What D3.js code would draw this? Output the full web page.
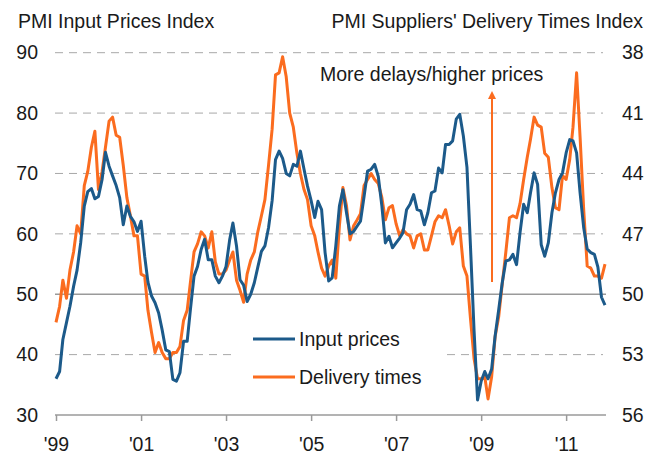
<!DOCTYPE html>
<html>
<head>
<meta charset="utf-8">
<script src="https://cdnjs.cloudflare.com/ajax/libs/d3/7.8.5/d3.min.js"></script>
<style>
  body { margin: 0; background: #fff; }
  svg text { font-family: "Liberation Sans", Arial, sans-serif; fill: #1a1a1a; }
</style>
</head>
<body>
<svg width="660" height="455"></svg>
<script>
// monthly, Jan 1999 .. Dec 2011
var startYear = 1999;

var inputPrices = [
  36.0, 37.2, 42.5, 45.3, 48.0, 51.3, 54.0, 58.5, 64.6, 67.0,
  67.5, 65.8, 66.2, 69.0, 73.5, 71.2, 69.6, 68.0, 66.0, 61.5,
  64.6, 62.9, 62.0, 60.4, 62.1, 56.3, 52.0, 49.7, 48.6, 46.9,
  44.1, 40.8, 40.5, 35.9, 35.6, 37.0, 42.2, 42.2, 47.5, 53.0,
  54.6, 57.4, 59.1, 55.7, 55.7, 53.0, 51.9, 53.0, 54.6, 59.0,
  61.8, 58.0, 52.4, 51.5, 48.8, 50.0, 51.9, 54.5, 57.1, 58.0,
  61.0, 65.5, 72.3, 73.7, 72.5, 70.0, 69.6, 71.5, 71.2, 73.7,
  70.7, 67.9, 65.5, 62.7, 65.4, 64.0, 56.9, 52.2, 52.7, 58.0,
  64.6, 67.3, 63.5, 60.0, 60.4, 61.3, 62.1, 66.2, 70.4, 70.7,
  71.5, 69.5, 64.6, 58.5, 59.6, 57.7, 58.5, 59.3, 60.2, 64.0,
  64.9, 66.5, 64.0, 63.8, 61.5, 63.5, 66.8, 67.1, 70.9, 70.1,
  74.8, 74.8, 75.4, 79.0, 79.8, 76.2, 71.0, 58.0, 44.0, 32.5,
  35.6, 37.2, 36.0, 37.6, 43.1, 47.5, 51.9, 55.5, 55.7, 56.6,
  54.9, 60.2, 64.9, 63.5, 66.8, 70.1, 68.2, 58.2, 56.3, 58.5,
  63.5, 66.8, 69.0, 70.1, 73.4, 75.6, 75.4, 73.4, 66.8, 61.0,
  57.5, 56.9, 56.6, 54.5, 49.5, 48.2
];

// right axis (inverted)
var deliveryTimes = [
  51.4, 50.6, 49.3, 50.2, 48.8, 47.9, 46.6, 47.0, 44.6, 43.9,
  42.7, 41.9, 44.8, 43.9, 42.7, 41.4, 41.2, 42.1, 42.2, 43.6,
  45.2, 46.1, 47.1, 47.1, 49.0, 49.1, 50.8, 51.9, 52.9, 52.4,
  52.9, 53.2, 53.2, 52.9, 52.9, 52.6, 51.3, 50.8, 49.4, 47.9,
  47.5, 46.9, 47.1, 47.7, 46.9, 48.4, 49.0, 49.0, 48.8, 48.3,
  47.9, 49.3, 49.8, 50.4, 49.0, 48.3, 47.9, 46.9, 46.1, 45.3,
  43.6, 41.8, 39.1, 39.0, 38.2, 39.2, 41.0, 41.7, 43.0, 44.0,
  44.8, 45.3, 46.6, 47.1, 47.9, 48.7, 49.1, 48.6, 48.3, 49.2,
  46.6, 44.7, 45.6, 47.3, 46.6, 46.3, 46.0, 44.6, 44.3, 44.0,
  44.3, 44.5, 45.2, 46.3, 45.7, 45.6, 46.5, 47.1, 46.8, 47.0,
  47.1, 47.7, 47.1, 47.0, 47.8, 47.8, 47.1, 46.4, 46.1, 46.2,
  45.8, 46.6, 47.5, 46.9, 46.7, 48.6, 49.1, 51.2, 53.2, 54.2,
  54.2, 54.1, 55.2, 54.1, 52.1, 51.1, 49.5, 47.9, 46.2, 46.1,
  46.2, 45.5, 44.3, 43.2, 42.3, 41.2, 41.6, 41.7, 43.0, 43.2,
  44.7, 45.7, 45.8, 44.1, 44.3, 43.3, 41.7, 39.0, 42.2, 45.8,
  48.6, 48.7, 49.1, 49.1, 49.2, 48.5
];

var leftTicks = [30, 40, 50, 60, 70, 80, 90];
var rightTicks = [38, 41, 44, 47, 50, 53, 56];
var xTickYears = [1999, 2001, 2003, 2005, 2007, 2009, 2011];
var xTickLabels = ["'99", "'01", "'03", "'05", "'07", "'09", "'11"];

var svg = d3.select("svg");
var plotLeft = 56, plotRight = 605, plotTop = 52.7, plotBottom = 415;
var blue = "#1c5a8a", orange = "#fb6c1f";

var months = inputPrices.map(function (d, i) { return new Date(startYear, i, 1); });

var x = d3.scaleTime()
  .domain([months[0], months[months.length - 1]])
  .range([plotLeft, plotRight]);
var y = d3.scaleLinear().domain([30, 90]).range([plotBottom, plotTop]);
var y2 = d3.scaleLinear().domain([56, 38]).range([plotBottom, plotTop]);

// gridlines
var grid = svg.append("g");
grid.selectAll("line")
  .data(leftTicks.filter(function (d) { return d !== 30 && d !== 50; }))
  .enter()
  .append("line")
  .attr("x1", plotLeft - 1)
  .attr("x2", plotRight - 2)
  .attr("y1", function (d) { return y(d); })
  .attr("y2", function (d) { return y(d); })
  .attr("stroke", "#a8a8a8")
  .attr("stroke-width", 1)
  .attr("stroke-dasharray", "8,6");

svg.append("line")
  .attr("x1", plotLeft - 1).attr("x2", plotRight + 1)
  .attr("y1", y(50)).attr("y2", y(50))
  .attr("stroke", "#9a9a9a").attr("stroke-width", 1.5);

// x axis
var xAxis = svg.append("g")
  .attr("transform", "translate(0," + plotBottom + ")")
  .call(d3.axisBottom(x)
    .tickValues(xTickYears.map(function (yr) { return new Date(yr, 0, 1); }))
    .tickFormat(function (d, i) { return xTickLabels[i]; })
    .tickSizeInner(6)
    .tickSizeOuter(0)
    .tickPadding(16));
xAxis.select(".domain").attr("d", "M" + (plotLeft - 1) + ",0H" + (plotRight + 1)).attr("stroke", "#9a9a9a").attr("stroke-width", 1.5);
xAxis.selectAll(".tick line").attr("stroke", "#9a9a9a").attr("stroke-width", 1.5);
xAxis.selectAll(".tick text").style("font-size", "19.5px").attr("fill", "#1a1a1a");

// y axes (labels only)
var yAxis = svg.append("g")
  .attr("transform", "translate(" + (plotLeft - 1) + ",0)")
  .call(d3.axisLeft(y).tickValues(leftTicks).tickSize(0).tickPadding(17));
yAxis.select(".domain").remove();
yAxis.selectAll("text").style("font-size", "19.5px").attr("fill", "#1a1a1a");

var yAxis2 = svg.append("g")
  .attr("transform", "translate(" + (plotRight + 1) + ",0)")
  .call(d3.axisRight(y2).tickValues(rightTicks).tickSize(0).tickPadding(16));
yAxis2.select(".domain").remove();
yAxis2.selectAll("text").style("font-size", "19.5px").attr("fill", "#1a1a1a");

// legend box hides the gridline behind it
svg.append("rect")
  .attr("x", 233).attr("y", 320).attr("width", 208).attr("height", 72)
  .attr("fill", "#fff");

// series
var line1 = d3.line()
  .x(function (d, i) { return x(months[i]); })
  .y(function (d) { return y(d); });
var line2 = d3.line()
  .x(function (d, i) { return x(months[i]); })
  .y(function (d) { return y2(d); });

svg.append("path")
  .datum(deliveryTimes)
  .attr("d", line2)
  .attr("fill", "none")
  .attr("stroke", orange)
  .attr("stroke-width", 3)
  .attr("stroke-linejoin", "round");

svg.append("path")
  .datum(inputPrices)
  .attr("d", line1)
  .attr("fill", "none")
  .attr("stroke", blue)
  .attr("stroke-width", 3)
  .attr("stroke-linejoin", "round");

// titles
svg.append("text").attr("x", 18).attr("y", 28)
  .style("font-size", "19.5px").text("PMI Input Prices Index");
svg.append("text").attr("x", 643).attr("y", 28)
  .attr("text-anchor", "end")
  .style("font-size", "19.5px").text("PMI Suppliers' Delivery Times Index");

// annotation
svg.append("text").attr("x", 320).attr("y", 81)
  .style("font-size", "19.5px").text("More delays/higher prices");

svg.append("defs").append("marker")
  .attr("id", "arrow")
  .attr("viewBox", "0 0 10 10")
  .attr("refX", 5).attr("refY", 5)
  .attr("markerWidth", 4).attr("markerHeight", 4)
  .attr("orient", "auto")
  .append("path")
  .attr("d", "M0,0L10,5L0,10z")
  .attr("fill", orange);

svg.append("line")
  .attr("x1", 492).attr("x2", 492)
  .attr("y1", 282).attr("y2", 95)
  .attr("stroke", orange).attr("stroke-width", 2)
  .attr("marker-end", "url(#arrow)");

// legend
var legend = svg.append("g");
var legendItems = [
  { name: "Input prices", color: blue, y: 339 },
  { name: "Delivery times", color: orange, y: 377 }
];
legendItems.forEach(function (d) {
  legend.append("line")
    .attr("x1", 253).attr("x2", 295)
    .attr("y1", d.y).attr("y2", d.y)
    .attr("stroke", d.color).attr("stroke-width", 3);
  legend.append("text")
    .attr("x", 299).attr("y", d.y + 7)
    .style("font-size", "19.5px")
    .text(d.name);
});
</script>
</body>
</html>
